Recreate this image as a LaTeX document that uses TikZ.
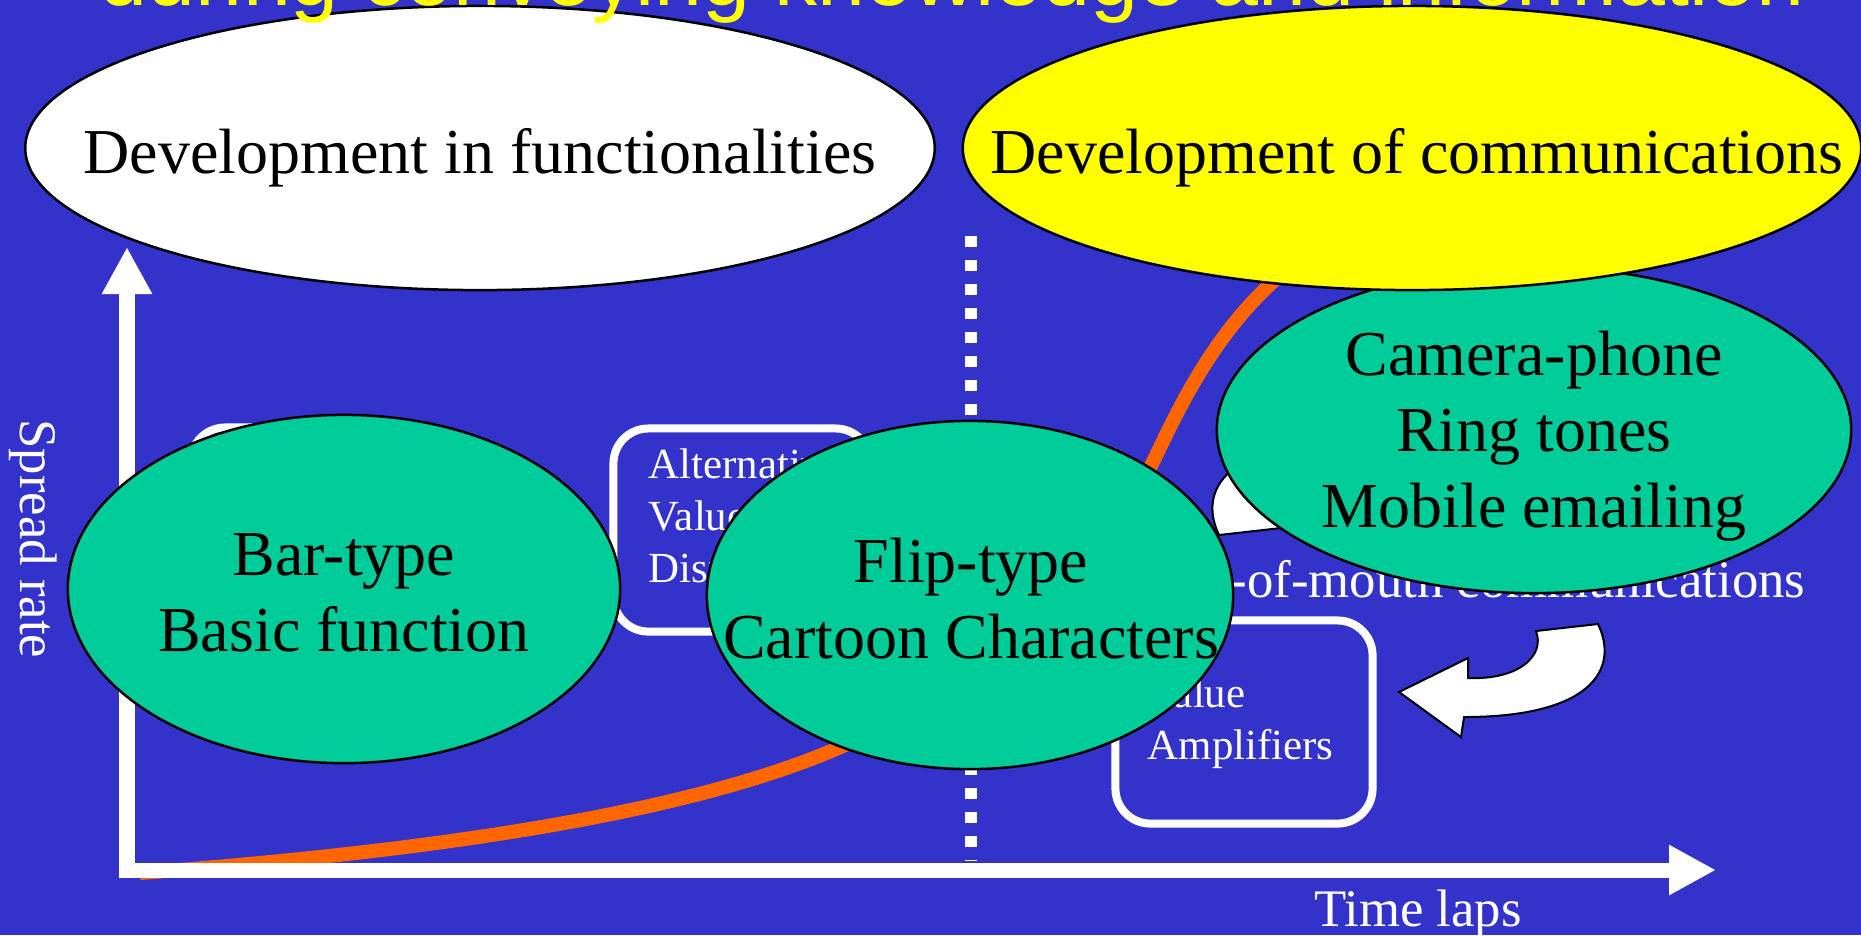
\documentclass[tikz,border=0pt]{standalone}
\usepackage{fontspec}
\setmainfont{Liberation Serif}
\setsansfont{Liberation Sans}
\usepackage{tikz}
\usetikzlibrary{shapes.geometric, arrows.meta}
\definecolor{Slide_Blue}{HTML}{3333CC}
\definecolor{Bubble_Green}{HTML}{00CC99}
\definecolor{Title_Yellow}{HTML}{FFFF00}
\definecolor{Curve_Orange}{HTML}{FF6600}

\begin{document}
\begin{tikzpicture}[
    x=0.01cm, y=-0.01cm,
    >={Triangle[width=0.47cm, length=0.47cm]},
    bubble/.style={ellipse, draw=black, line width=0.025cm, fill=Bubble_Green, inner sep=0pt},
    headline/.style={ellipse, draw=black, line width=0.025cm, inner sep=0pt},
    bubbletext/.style={anchor=base, text width=9cm, align=flush center, inner sep=0pt, font=\fontsize{18.2}{21.7}\selectfont},
    valuebox/.style={draw=white, line width=0.08cm, rounded corners=0.35cm, minimum width=2.57cm, minimum height=2.03cm, inner sep=0pt},
    boxtext/.style={anchor=base west, text width=2.2cm, align=flush left, inner sep=0pt, text=white, font=\fontsize{12.2}{14.8}\selectfont},
    axis/.style={draw=white, line width=0.15cm, <->},
    axislabel/.style={inner sep=0pt, text=white, font=\fontsize{15}{18}\selectfont},
    growth/.style={draw=Curve_Orange, line width=0.14cm},
    divider/.style={draw=white, line width=0.12cm, dash pattern=on 0.11cm off 0.13cm},
    turnarrow/.style={fill=white, draw=black, line width=0.02cm}
]
\clip (0,0) rectangle (1861,935);
\fill[Slide_Blue] (0,0) rectangle (1861,935);

\node[valuebox] (basicbox) at (319,529) {};
\node[valuebox] (altbox) at (742,530) {};
\node[boxtext] (alttxt) at (648,478) {Alternative\\Value\\Display};
\node[valuebox] (ampbox) at (1244,722) {};
\node[boxtext] (amptxt) at (1147,707) {Value\\Amplifiers};

\draw[divider] (971,236) -- (971,861);

\draw[growth] (140,873) .. controls (450,850) and (700,810) .. (845,745)
  .. controls (960,693) and (1100,570) .. (1150,468)
  .. controls (1180,407) and (1225,300) .. (1330,240);

\coordinate (origin) at (127,870);
\coordinate (ytip) at (127,247);
\coordinate (xtip) at (1716,870);
\draw[axis] (ytip) -- (origin) -- (xtip);
\node[axislabel, rotate=-90, anchor=base] (ylabel) at (20,539) {Spread rate};
\node[axislabel, anchor=base] (xlabel) at (1418,926) {Time laps};

\node[axislabel, anchor=base east] (wom) at (1806,597) {Word-of-mouth communications};

\foreach \turn in {180,0}
  \draw[turnarrow, rotate around={\turn:(1408.5,579.5)}] (1598,624) .. controls (1620,670) and (1590,717) .. (1464,717) -- (1461,737) -- (1399,692) -- (1468,658) -- (1468,678) .. controls (1520,680) and (1545,655) .. (1536,631) -- cycle;

\node[bubble, minimum width=5.52cm, minimum height=3.48cm] (bar) at (344,589) {};
\node[bubbletext] (bartxt) at (344,575) {Bar-type\\Basic function};
\node[bubble, minimum width=5.26cm, minimum height=3.48cm] (flip) at (970,595) {};
\node[bubbletext] (fliptxt) at (971,582) {Flip-type\\Cartoon Characters};
\node[bubble, minimum width=6.34cm, minimum height=3.26cm] (camera) at (1534,430) {};
\node[bubbletext] (cameratxt) at (1534,375) {Camera-phone\\Ring tones\\Mobile emailing};

\node[headline, fill=white, minimum width=9.09cm, minimum height=2.84cm] (func) at (480,148) {};
\node[bubbletext] (functxt) at (480,173) {Development in functionalities};
\node[headline, fill=Title_Yellow, minimum width=8.98cm, minimum height=2.84cm] (comm) at (1412,148) {};
\node[bubbletext] (commtxt) at (1417,173) {Development of communications};

\node[anchor=base, inner sep=0pt, text=Title_Yellow, font=\sffamily\fontsize{24.5}{29}\selectfont] (title) at (952,5) {during conveying knowledge and information};
\end{tikzpicture}
\end{document}
